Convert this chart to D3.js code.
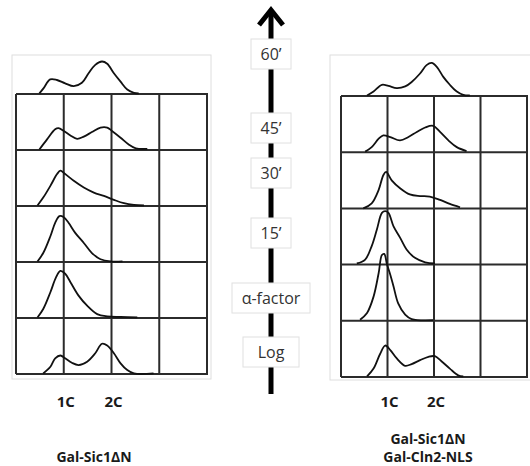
<!DOCTYPE html>
<html>
<head>
<meta charset="utf-8">
<script src="https://cdn.jsdelivr.net/npm/d3@7"></script>
<style>
  html, body { margin: 0; padding: 0; background: #fff; }
  svg { display: block; }
</style>
</head>
<body>
<svg id="chart" width="530" height="466"></svg>
<script>
// time points, bottom to top
const timepoints = ["Log", "α-factor", "15’", "30’", "45’", "60’"]
const ploidy = [["1C", 1], ["2C", 2]]
const strainLeft = ["Gal-Sic1ΔN"]
const strainRight = ["Gal-Sic1ΔN", "Gal-Cln2-NLS"]

// DNA content (1C = 1, 2C = 2) vs cell count (% of a row)
const sicLog = [[0.57,1],[0.72,13],[0.82,28],[0.93,33],[1.03,28],[1.17,20],[1.31,16],[1.49,22],[1.66,37],[1.80,54],[1.91,51],[2.05,37],[2.19,19],[2.33,7],[2.47,1],[2.88,1]]
const sicAlpha = [[0.45,1],[0.57,16],[0.72,46],[0.84,73],[0.93,84],[1.03,79],[1.14,64],[1.31,40],[1.49,22],[1.70,7],[1.91,3],[2.19,2],[2.54,1]]
const sic15 = [[0.45,1],[0.57,16],[0.72,46],[0.82,70],[0.91,82],[1.00,80],[1.10,70],[1.24,52],[1.42,34],[1.59,16],[1.77,5],[1.98,1],[2.23,1]]
const sic30 = [[0.45,1],[0.57,15],[0.72,36],[0.86,57],[0.93,63],[1.03,57],[1.21,45],[1.42,33],[1.63,24],[1.84,18],[2.05,11],[2.26,5],[2.47,2],[2.68,1]]
const sic45 = [[0.49,1],[0.65,19],[0.82,37],[0.89,39],[1.00,34],[1.14,26],[1.28,20],[1.42,24],[1.59,32],[1.77,40],[1.91,40],[2.01,34],[2.19,22],[2.36,10],[2.51,3],[2.75,2]]
const sic60 = [[0.49,1],[0.575,10],[0.716,26],[0.857,25],[1.03,19],[1.21,14],[1.38,20],[1.52,37],[1.66,52],[1.80,58],[1.91,54],[2.05,37],[2.19,22],[2.33,8],[2.47,2],[2.57,1]]

const clnLog = [[0.56,1],[0.70,15],[0.84,41],[0.95,56],[1.06,48],[1.20,33],[1.38,20],[1.52,23],[1.70,30],[1.88,36],[2.02,37],[2.16,28],[2.34,15],[2.52,3],[2.63,1]]
const clnAlpha = [[0.41,2],[0.56,14],[0.70,43],[0.81,85],[0.88,117],[0.93,119],[0.99,100],[1.06,82],[1.13,61],[1.23,31],[1.38,11],[1.52,3],[1.98,1]]
const cln15 = [[0.34,2],[0.52,9],[0.66,33],[0.77,62],[0.88,92],[0.95,95],[1.02,92],[1.13,68],[1.27,48],[1.41,27],[1.59,12],[1.81,4],[2.02,2]]
const cln30 = [[0.48,0],[0.66,9],[0.81,33],[0.91,59],[0.97,65],[1.09,50],[1.27,36],[1.48,25],[1.70,22],[1.91,21],[2.13,15],[2.34,8],[2.56,2]]
const cln45 = [[0.52,1],[0.66,9],[0.81,24],[0.91,30],[1.06,27],[1.27,21],[1.45,27],[1.63,36],[1.81,44],[1.98,47],[2.13,36],[2.31,21],[2.49,9],[2.70,2]]
const cln60 = [[0.56,1],[0.70,8],[0.88,20],[1.02,18],[1.20,14],[1.38,17],[1.52,25],[1.70,40],[1.84,55],[1.95,59],[2.06,52],[2.20,34],[2.34,20],[2.49,8],[2.63,2],[2.77,1]]

const svg = d3.select("#chart")

function drawPanel(opt) {
  const g = svg.append("g")

  // light frame behind the grid
  g.append("rect")
    .attr("x", opt.frame[0]).attr("y", opt.frame[1])
    .attr("width", opt.frame[2]).attr("height", opt.frame[3])
    .attr("fill", "#fff").attr("stroke", "#dedede").attr("stroke-width", 1)

  const x = d3.scaleLinear().domain([0, 4]).range([opt.left, opt.right])
  const row = d3.scaleLinear().domain([0, 5]).range([opt.bottom, opt.top])
  const h = d3.scaleLinear().domain([0, 100]).range([0, (opt.bottom - opt.top) / 5])

  // grid
  g.selectAll(".hline").data(d3.range(6)).join("line")
    .attr("x1", x(0)).attr("x2", x(4) + 1)
    .attr("y1", d => row(d)).attr("y2", d => row(d))
    .attr("stroke", "#2b2b2b").attr("stroke-width", 2)
  g.selectAll(".vline").data(d3.range(5)).join("line")
    .attr("x1", d => x(d)).attr("x2", d => x(d))
    .attr("y1", row(5)).attr("y2", row(0))
    .attr("stroke", "#2b2b2b").attr("stroke-width", 2)

  // histograms
  opt.series.forEach((data, i) => {
    const line = d3.line()
      .x(d => x(d[0]))
      .y(d => row(i) - h(d[1]))
      .curve(d3.curveCatmullRom.alpha(0.5))
    g.append("path")
      .attr("d", line(data))
      .attr("fill", "none")
      .attr("stroke", "#111")
      .attr("stroke-width", 1.8)
      .attr("stroke-linejoin", "round")
  })

  // 1C / 2C labels
  g.selectAll(".ploidy").data(ploidy).join("text")
    .attr("x", d => x(d[1]) + 2)
    .attr("y", 407)
    .attr("text-anchor", "middle")
    .style("font", "bold 15px 'Open Sans', sans-serif")
    .attr("fill", "#1a1a1a")
    .text(d => d[0])

  // strain name
  g.selectAll(".strain").data(opt.names).join("text")
    .attr("x", opt.nameX)
    .attr("y", (d, i) => opt.nameY - (opt.names.length - 1 - i) * 18)
    .attr("text-anchor", "middle")
    .style("font", "bold 14px 'Open Sans', sans-serif")
    .attr("fill", "#1a1a1a")
    .text(d => d)
}

drawPanel({
  frame: [12, 55, 199, 324],
  left: 16, right: 207, top: 94, bottom: 374,
  series: [sicLog, sicAlpha, sic15, sic30, sic45, sic60],
  names: strainLeft, nameX: 94, nameY: 462
})

drawPanel({
  frame: [330, 55, 210, 325],
  left: 341, right: 527, top: 96, bottom: 377,
  series: [clnLog, clnAlpha, cln15, cln30, cln45, cln60],
  names: strainRight, nameX: 428, nameY: 462
})

// time arrow
const ax = 271
const arrow = svg.append("g")
arrow.append("line")
  .attr("x1", ax).attr("x2", ax).attr("y1", 12).attr("y2", 394)
  .attr("stroke", "#000").attr("stroke-width", 5)
arrow.append("path")
  .attr("d", d3.line()([[ax - 12, 25], [ax, 10], [ax + 12, 25]]))
  .attr("fill", "none").attr("stroke", "#000").attr("stroke-width", 5)
  .attr("stroke-linejoin", "miter")

// boxed time labels
const boxTop = [337, 283, 218, 158, 113, 39]
const boxW = [56, 78, 40, 40, 40, 40]
const labels = svg.selectAll(".tp").data(timepoints).join("g")
labels.append("rect")
  .attr("x", (d, i) => ax - boxW[i] / 2)
  .attr("y", (d, i) => boxTop[i])
  .attr("width", (d, i) => boxW[i])
  .attr("height", 30)
  .attr("fill", "#fff").attr("stroke", "#e0e0e0").attr("stroke-width", 1)
labels.append("text")
  .attr("x", ax)
  .attr("y", (d, i) => boxTop[i] + 20.5)
  .attr("text-anchor", "middle")
  .style("font", "16px 'Open Sans', sans-serif")
  .attr("fill", "#333")
  .text(d => d)
</script>
</body>
</html>
